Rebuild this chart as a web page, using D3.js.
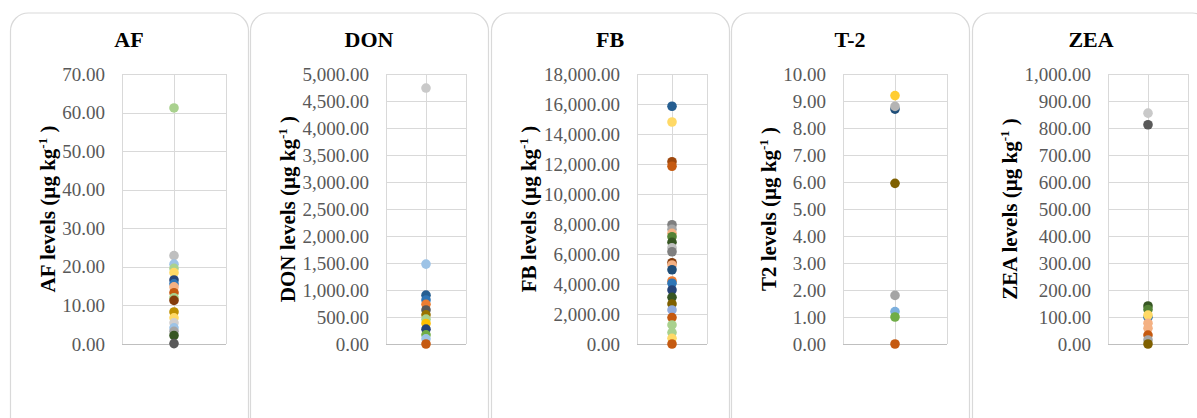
<!DOCTYPE html>
<html>
<head>
<meta charset="utf-8">
<title>mycotoxin levels</title>
<script src="https://cdn.jsdelivr.net/npm/d3@7"></script>
<style>
body {margin:0;background:#fff;}
svg {display:block;}
svg text {font-family:"Liberation Serif","DejaVu Serif",serif !important;}
</style>
</head>
<body>
<svg id="chart" width="1197" height="418"></svg>
<script>
// panels (one per toxin)
var toxins = ["AF", "DON", "FB", "T-2", "ZEA"];
var axisNames = ["AF", "DON", "FB", "T2", "ZEA"];
var yMax = [70, 5000, 18000, 10, 1000];
var yStep = [10, 500, 2000, 1, 100];

// sample levels, one point per sample (µg/kg)
var afValues = [61.2, 22.9, 20.7, 19.6, 18.5, 16.6, 15.6, 14.8, 13.3, 12.0, 11.3, 8.3, 6.8, 5.5, 4.2, 3.3, 2.2, 0.1];
var donValues = [4740, 1480, 905, 815, 735, 630, 540, 460, 380, 275, 170, 95, 0];
var fbValues = [15850, 14800, 12150, 11850, 7950, 7650, 7380, 7150, 6780, 6420, 6150, 5420, 5270, 4950, 4200, 4050, 3600, 3110, 2670, 2270, 1760, 1270, 760, 380, 0];
var t2Values = [9.2, 8.7, 8.8, 5.95, 1.8, 1.2, 1.0, 0];
var zeaValues = [855, 812, 141, 128, 99, 107, 77, 58, 33, 15, 0];

// marker colours (excel-ish palette)
var afColors = ["#A9D18E","#BFBFBF","#9DC3E6","#A9D18E","#FFD966","#264478","#2E75B6","#F4B183","#C55A11","#A9D18E","#843C0C","#BF9000","#FFD966","#D0CECE","#9DC3E6","#A5A5A5","#375623","#595959"];
var donColors = ["#C9C9C9","#9DC3E6","#255E91","#2E75B6","#ED7D31","#595959","#997300","#A9D18E","#FFC000","#264478","#70AD47","#9DC3E6","#C55A11"];
var fbColors = ["#255E91","#FFD966","#9E480E","#C55A11","#7F7F7F","#A5A5A5","#F4B183","#548235","#375623","#BFBFBF","#7F7F7F","#843C0C","#F4B183","#1F4E79","#ED7D31","#2E75B6","#264478","#375623","#7F6000","#8FAADC","#C55A11","#A9D18E","#A9D18E","#FFD966","#C55A11"];
var t2Colors = ["#FFCD33","#1F4E79","#B4B4B4","#7F6000","#A5A5A5","#7CAFDD","#70AD47","#C55A11"];
var zeaColors = ["#C9C9C9","#595959","#375623","#548235","#2E75B6","#FFD966","#F4B183","#F4B183","#C55A11","#A5A5A5","#7F6000"];

var allValues = [afValues, donValues, fbValues, t2Values, zeaValues];
var allColors = [afColors, donColors, fbColors, t2Colors, zeaColors];

// layout
var cardLeft = [10, 250, 491, 731, 972];
var plotOffset = [112, 136, 146, 112, 136]; // plot left, from card left
var cardW = 238, cardTop = 13;
var plotTop = 74, plotBottom = 344;

var svg = d3.select("#chart");

toxins.forEach(function(name, i){
    var g = svg.append("g").attr("transform", "translate(" + cardLeft[i] + ",0)");

    // card
    g.append("rect").attr("x", 0.5).attr("y", cardTop).attr("width", cardW).attr("height", 440)
        .attr("rx", 18).attr("ry", 18).attr("fill", "#fff").attr("stroke", "#d9d9d9").attr("stroke-width", 1.2);

    g.append("text").attr("x", cardW / 2).attr("y", 47).attr("text-anchor", "middle")
        .attr("font-size", 22).attr("font-weight", "bold").attr("fill", "#000").text(name);

    var x0 = plotOffset[i], x1 = 216;
    var xMid = (x0 + x1) / 2;

    var y = d3.scaleLinear().domain([0, yMax[i]]).range([plotBottom, plotTop]);
    var ticks = d3.range(0, yMax[i] + yStep[i] / 2, yStep[i]);

    // gridlines
    g.append("g").selectAll("line").data(ticks).enter().append("line")
        .attr("x1", x0).attr("x2", x1)
        .attr("y1", function(d){return Math.round(y(d)) + 0.5}).attr("y2", function(d){return Math.round(y(d)) + 0.5})
        .attr("stroke", "#d9d9d9").attr("stroke-width", 1);
    [x0, xMid, x1].forEach(function(xx){
        g.append("line").attr("x1", Math.round(xx) + 0.5).attr("x2", Math.round(xx) + 0.5)
            .attr("y1", plotTop).attr("y2", plotBottom).attr("stroke", "#d9d9d9");
    });
    g.append("line").attr("x1", x0).attr("x2", x1).attr("y1", plotBottom + 0.5).attr("y2", plotBottom + 0.5)
        .attr("stroke", "#bfbfbf");

    // y axis labels (no line, just text)
    var axis = d3.axisLeft(y).tickValues(ticks).tickSize(0).tickPadding(17).tickFormat(d3.format(",.2f"));
    var ax = g.append("g").attr("transform", "translate(" + x0 + ",0)").call(axis);
    ax.select(".domain").remove();
    ax.attr("font-family", null);
    ax.selectAll("text").attr("font-size", 19).attr("fill", "#595959");

    // axis title
    var t = g.append("text").attr("transform", "translate(45," + (plotTop + plotBottom) / 2 + ") rotate(-90)")
        .attr("text-anchor", "middle").attr("font-size", 21).attr("font-weight", "bold").attr("fill", "#000");
    t.append("tspan").text(axisNames[i] + " levels (\u00b5g kg");
    t.append("tspan").attr("dy", -8).attr("font-size", 13).text("-1");
    t.append("tspan").attr("dy", 8).text(" )");

    // points
    g.append("g").selectAll("circle").data(allValues[i]).enter().append("circle")
        .attr("cx", xMid).attr("cy", function(d){return y(d)}).attr("r", 4.8)
        .attr("fill", function(d, j){return allColors[i][j]});
});
</script>
</body>
</html>
